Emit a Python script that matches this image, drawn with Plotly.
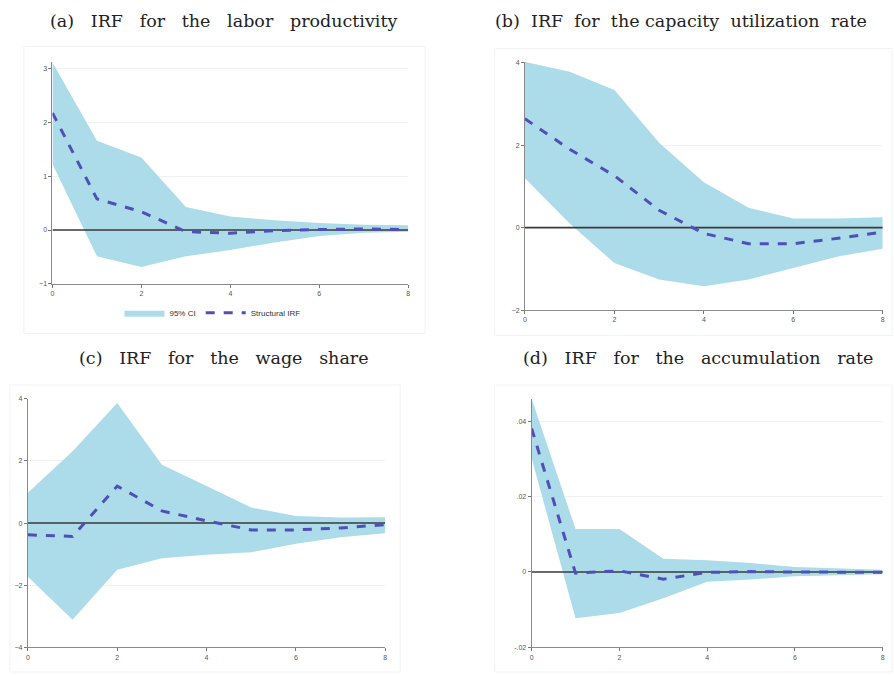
import plotly.graph_objects as go

steps = [0, 1, 2, 3, 4, 5, 6, 7, 8]

# (a) labor productivity
a_irf = [2.18, 0.58, 0.34, -0.03, -0.06, -0.01, 0.01, 0.02, 0.01]
a_up = [3.12, 1.66, 1.35, 0.43, 0.25, 0.18, 0.13, 0.10, 0.09]
a_lo = [1.23, -0.49, -0.69, -0.49, -0.37, -0.23, -0.11, -0.05, -0.03]

# (b) capacity utilization rate
b_irf = [2.64, 1.90, 1.26, 0.42, -0.14, -0.39, -0.39, -0.26, -0.11]
b_up = [4.02, 3.78, 3.34, 2.06, 1.10, 0.48, 0.22, 0.22, 0.25]
b_lo = [1.20, 0.10, -0.86, -1.26, -1.42, -1.26, -0.98, -0.70, -0.51]

# (c) wage share
c_irf = [-0.38, -0.43, 1.19, 0.39, 0.07, -0.22, -0.22, -0.16, -0.05]
c_up = [0.98, 2.31, 3.87, 1.88, 1.19, 0.50, 0.23, 0.18, 0.19]
c_lo = [-1.73, -3.11, -1.50, -1.13, -1.02, -0.94, -0.67, -0.46, -0.33]

# (d) accumulation rate
d_irf = [0.0381, -0.0003, 0.0003, -0.0019, -0.0001, 0.0001, 0.0, -0.0001, -0.0001]
d_up = [0.046, 0.0114, 0.0114, 0.0035, 0.0031, 0.0024, 0.0013, 0.0009, 0.0006]
d_lo = [0.0302, -0.0123, -0.0109, -0.0070, -0.0026, -0.0020, -0.0011, -0.0008, -0.0006]

# titles as word lists (joined with wide spacing, as in the typeset original)
titles = [["(a)", "IRF", "for", "the", "labor", "productivity"],
          ["(b)", "IRF", "for", "the capacity", "utilization", "rate"],
          ["(c)", "IRF", "for", "the", "wage", "share"],
          ["(d)", "IRF", "for", "the", "accumulation", "rate"]]

x_ticks = [0, 2, 4, 6, 8]
a_ticks = [-1, 0, 1, 2, 3]
b_ticks = [-2, 0, 2, 4]
c_ticks = [-4, -2, 0, 2, 4]
d_ticks = [-0.02, 0, 0.02, 0.04]
d_ticklabels = ["-.02", "0", ".02", ".04"]

BAND = "#acdbe9"
LINE = "#4f4fb8"

panels = [
    (a_irf, a_up, a_lo, a_ticks, None, [-1, 3.12], [0.0567, 0.4564], [0.5812, 0.9126]),
    (b_irf, b_up, b_lo, b_ticks, None, [-2, 4.02], [0.5876, 0.9896], [0.5418, 0.9133]),
    (c_irf, c_up, c_lo, c_ticks, None, [-4, 4], [0.0291, 0.4306], [0.0370, 0.4089]),
    (d_irf, d_up, d_lo, d_ticks, d_ticklabels, [-0.02, 0.046], [0.5951, 0.9896], [0.0370, 0.4090]),
]

fig = go.Figure()
layout = {}
for i, (irf, up, lo, yt, ytl, yr, xd, yd) in enumerate(panels):
    n = i + 1
    xa = "x" if n == 1 else f"x{n}"
    ya = "y" if n == 1 else f"y{n}"
    fig.add_trace(go.Scatter(x=steps, y=lo, mode="lines", line=dict(width=0, color=BAND),
                             showlegend=False, hoverinfo="skip", xaxis=xa, yaxis=ya))
    fig.add_trace(go.Scatter(x=steps, y=up, mode="lines", line=dict(width=0, color=BAND),
                             fill="tonexty", fillcolor=BAND, name="95% CI",
                             showlegend=(n == 1), xaxis=xa, yaxis=ya))
    fig.add_trace(go.Scatter(x=[steps[0], steps[-1]], y=[0, 0], mode="lines",
                             line=dict(width=1.6, color="#3a3a3a"), showlegend=False,
                             hoverinfo="skip", xaxis=xa, yaxis=ya))
    fig.add_trace(go.Scatter(x=steps, y=irf, mode="lines", line=dict(width=3, color=LINE, dash="dash"),
                             name="Structural IRF", showlegend=(n == 1), xaxis=xa, yaxis=ya))
    xk = "xaxis" if n == 1 else f"xaxis{n}"
    yk = "yaxis" if n == 1 else f"yaxis{n}"
    layout[xk] = dict(domain=xd, range=[0, 8], anchor=ya, tickvals=x_ticks, ticks="outside",
                      ticklen=3, tickcolor="#777", showline=True, linecolor="#8a8a8a", linewidth=1,
                      showgrid=False, zeroline=False, tickfont=dict(size=7, color="#555", family="Liberation Sans"))
    yaxis = dict(domain=yd, range=yr, anchor=xa, tickvals=yt, ticks="outside", ticklen=3,
                 tickcolor="#777", showline=True, linecolor="#8a8a8a", linewidth=1,
                 showgrid=True, gridcolor="#f1f1f1", zeroline=False,
                 tickfont=dict(size=7, color="#555", family="Liberation Sans"))
    if ytl:
        yaxis["ticktext"] = ytl
    layout[yk] = yaxis

fig.update_layout(**layout)

# faint outer boxes of each graph
boxes = [(22, 43, 425, 333), (495, 45, 894, 335), (8, 385, 400, 675), (495, 385, 894, 675)]
for (x0, y0, x1, y1) in boxes:
    fig.add_shape(type="rect", xref="paper", yref="paper", x0=x0 / 894, x1=x1 / 894,
                  y0=1 - y1 / 675, y1=1 - y0 / 675, line=dict(color="#f2f2f2", width=1), layer="below")

GAP = "\u00a0\u00a0\u00a0"
GAP_B = "\u00a0\u00a0"
title_pos = [(222.5, 17, "center"), (493, 17, "left"), (222.5, 358, "center"), (699, 358, "center")]
for k, (words, (px, py, anc)) in enumerate(zip(titles, title_pos)):
    gap = GAP_B if k == 1 else GAP
    fig.add_annotation(text=gap.join(words), xref="paper", yref="paper", x=px / 894, y=1 - py / 675,
                       xanchor=anc, yanchor="middle", showarrow=False,
                       font=dict(family="DejaVu Serif", size=17.5, color="#222"))

fig.update_layout(
    width=894, height=675, margin=dict(l=0, r=0, t=0, b=0),
    paper_bgcolor="white", plot_bgcolor="white",
    legend=dict(orientation="h", x=118 / 894, y=1 - 312 / 675, xanchor="left", yanchor="middle",
                traceorder="normal",
                font=dict(size=8, color="#333", family="Liberation Sans"), itemwidth=40,
                bgcolor="rgba(0,0,0,0)"),
)

fig.write_html("out.html")
